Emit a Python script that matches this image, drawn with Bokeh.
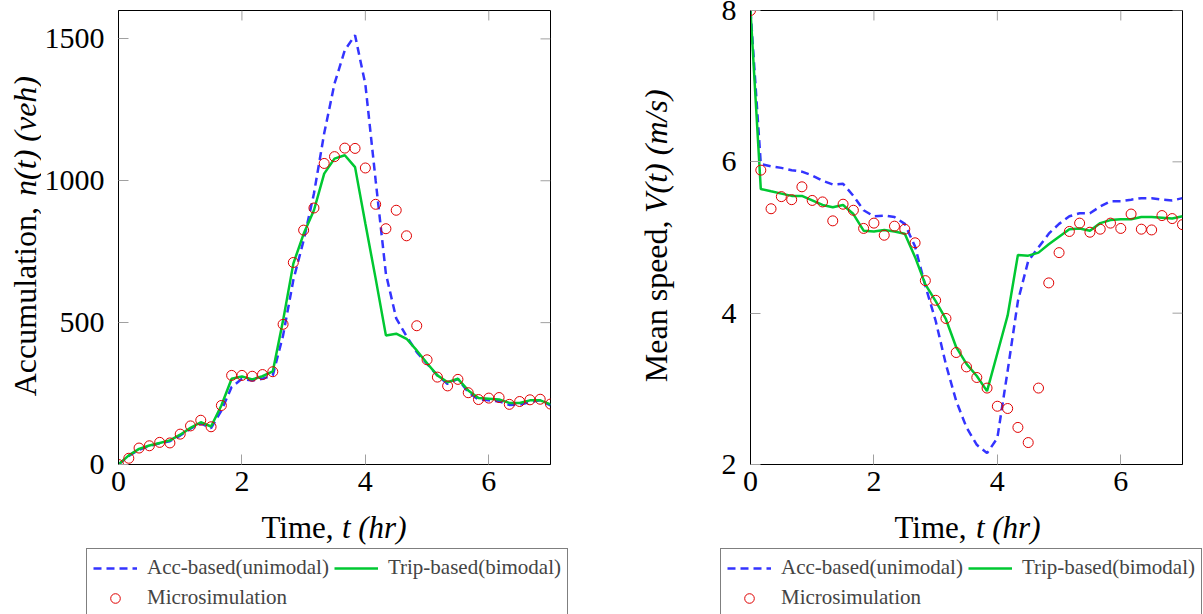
import math
from bokeh.plotting import figure
from bokeh.models import Range1d, FixedTicker, Legend, LegendItem
from bokeh.core.properties import value
from bokeh.layouts import row, column
from bokeh.embed import file_html
from bokeh.resources import INLINE

FONT = "Liberation Serif"

# time grid (hr)
t = [0.0, 0.167, 0.333, 0.5, 0.667, 0.833, 1.0, 1.167, 1.333, 1.5, 1.667, 1.833,
     2.0, 2.167, 2.333, 2.5, 2.667, 2.833, 3.0, 3.167, 3.333, 3.5, 3.667, 3.833,
     4.0, 4.167, 4.333, 4.5, 4.667, 4.833, 5.0, 5.167, 5.333, 5.5, 5.667, 5.833,
     6.0, 6.167, 6.333, 6.5, 6.667, 6.833, 7.0]

# accumulation n(t) (veh)
n_acc = [0, 30, 52, 65, 75, 82, 102, 126, 145, 128, 190, 273,
         302, 296, 302, 314, 455, 650, 790, 955, 1167, 1342, 1460, 1513,
         1340, 1001, 672, 515, 452, 396, 355, 314, 284, 302, 255, 229,
         226, 223, 210, 211, 220, 226, 208]
n_trip = [0, 32, 55, 67, 76, 85, 105, 129, 149, 134, 208, 302,
          310, 300, 311, 328, 508, 708, 813, 896, 1025, 1078, 1090, 1048,
          849, 655, 455, 461, 443, 402, 357, 314, 290, 302, 261, 234,
          232, 229, 217, 217, 226, 226, 212]
n_micro = [0, 22, 58, 66, 78, 76, 107, 136, 156, 133, 208, 314,
           314, 311, 317, 327, 494, 712, 826, 904, 1061, 1085, 1115, 1114,
           1045, 917, 831, 896, 806, 489, 369, 308, 277, 300, 253, 229,
           234, 236, 212, 222, 228, 230, 213]

# mean speed V(t) (m/s)
v_acc = [8.0, 5.97, 5.94, 5.92, 5.89, 5.87, 5.82, 5.75, 5.70, 5.71, 5.55, 5.36,
         5.28, 5.29, 5.27, 5.18, 4.88, 4.36, 3.90, 3.32, 2.84, 2.49, 2.26, 2.15,
         2.35, 3.24, 4.16, 4.69, 4.87, 5.05, 5.18, 5.28, 5.32, 5.32, 5.41, 5.48,
         5.48, 5.50, 5.52, 5.52, 5.50, 5.49, 5.52]
v_trip = [8.0, 5.64, 5.61, 5.58, 5.55, 5.55, 5.49, 5.43, 5.40, 5.43, 5.31, 5.09,
          5.08, 5.10, 5.08, 5.05, 4.74, 4.38, 4.16, 3.92, 3.55, 3.33, 3.17, 2.97,
          3.47, 3.97, 4.77, 4.76, 4.80, 4.91, 5.01, 5.11, 5.12, 5.09, 5.19, 5.23,
          5.24, 5.24, 5.27, 5.27, 5.26, 5.25, 5.28]
v_micro = [8.0, 5.89, 5.38, 5.54, 5.50, 5.67, 5.49, 5.47, 5.22, 5.44, 5.36, 5.12,
           5.19, 5.03, 5.15, 5.11, 4.93, 4.43, 4.17, 3.93, 3.48, 3.29, 3.15, 3.01,
           2.77, 2.74, 2.49, 2.29, 3.01, 4.40, 4.80, 5.08, 5.19, 5.07, 5.11, 5.19,
           5.12, 5.31, 5.11, 5.10, 5.29, 5.25, 5.17]

x_ticks = [0, 2, 4, 6]
n_ticks = [0, 500, 1000, 1500]
v_ticks = [2, 4, 6, 8]

labels = ["Acc-based(unimodal)", "Trip-based(bimodal)", "Microsimulation"]

BLUE = "#3434ff"
GREEN = "#00c832"
RED = "#e00000"
TICK = "#a0a0a0"
DASH = "8 5"
NAN = float("nan")

MAIN_H = 506      # height of the plot figure (frame 454 + borders)
BOT_H = 614 - MAIN_H


def style_axis(ax, standoff):
    ax.major_tick_in = 10
    ax.major_tick_out = 0
    ax.minor_tick_line_color = None
    ax.major_tick_line_color = TICK
    ax.major_tick_line_width = 1
    ax.axis_line_color = "black"
    ax.axis_line_width = 1
    ax.major_label_text_font = FONT
    ax.major_label_text_color = "black"
    ax.major_label_text_font_size = "30px"
    ax.major_label_standoff = standoff


def blank(w, h):
    f = figure(width=w, height=h, x_range=Range1d(0, w), y_range=Range1d(0, h),
               x_axis_location=None, y_axis_location=None, min_border=0,
               output_backend="svg", toolbar_location=None, tools="")
    f.outline_line_color = None
    f.grid.visible = False
    f.background_fill_color = "white"
    f.border_fill_color = "white"
    return f


def title_text(f, x, y, txt, italic, angle, align, size="31px"):
    f.text(x=[x], y=[y], text=[txt], text_font=value(FONT), text_font_size=size,
           text_font_style="italic" if italic else "normal", angle=angle,
           text_align=align, text_baseline="alphabetic", text_color="black")


def main_plot(y0, y1, yticks, ys, left_border, right_border):
    p = figure(frame_width=432, frame_height=454,
               min_border_left=left_border, min_border_right=right_border,
               min_border_top=10, min_border_bottom=MAIN_H - 464,
               x_range=Range1d(0, 7), y_range=Range1d(y0, y1),
               output_backend="svg", toolbar_location=None, tools="")
    p.background_fill_color = "white"
    p.border_fill_color = "white"
    p.outline_line_color = "black"
    p.outline_line_width = 1
    p.xgrid.grid_line_color = None
    p.ygrid.grid_line_color = None

    p.xaxis.ticker = FixedTicker(ticks=x_ticks)
    p.yaxis.ticker = FixedTicker(ticks=yticks)
    for ax in p.xaxis:
        style_axis(ax, 7)
    for ax in p.yaxis:
        style_axis(ax, 14)

    # mirrored inner ticks on the top and right edges of the frame
    p.ray(x=x_ticks, y=[y1] * len(x_ticks), length=10, length_units="screen",
          angle=-math.pi / 2, line_color=TICK, line_width=1)
    p.ray(x=[7] * len(yticks), y=yticks, length=10, length_units="screen",
          angle=math.pi, line_color=TICK, line_width=1)

    p.line(t, ys[0], line_color=BLUE, line_width=2.5, line_dash=DASH)
    p.line(t, ys[1], line_color=GREEN, line_width=2.5)
    p.scatter(t, ys[2], marker="circle", size=10, line_color=RED,
              fill_color=None, line_width=1)
    return p


def bottom_fig(w, time_x0, time_x1, legend_x):
    b = blank(w, BOT_H)
    base = 614 - 537 + 10
    title_text(b, time_x0, base, "Time,", False, 0, "left")
    title_text(b, time_x1, base, "t (hr)", True, 0, "right")
    # legend sample renderers (not visible in the figure itself)
    d_acc = b.line([NAN, NAN], [NAN, NAN], line_color=BLUE, line_width=2.5, line_dash=DASH)
    d_trip = b.line([NAN, NAN], [NAN, NAN], line_color=GREEN, line_width=2.5)
    d_mic = b.scatter([NAN], [NAN], marker="circle", size=10, line_color=RED,
                      fill_color=None, line_width=1)
    legend = Legend(items=[LegendItem(label=labels[0], renderers=[d_acc]),
                           LegendItem(label=labels[1], renderers=[d_trip]),
                           LegendItem(label=labels[2], renderers=[d_mic])],
                    location=(legend_x, -3), orientation="horizontal", ncols=2,
                    label_text_font=FONT, label_text_font_size="21px",
                    glyph_width=44, glyph_height=24, label_height=24,
                    label_standoff=10, spacing=5, padding=6, margin=0,
                    border_line_color="black", border_line_width=1,
                    background_fill_color="white", background_fill_alpha=1)
    b.add_layout(legend)
    return b


def ylabel_fig(w, x, end_a, end_b, txt_a, txt_b):
    f = blank(w, MAIN_H)
    title_text(f, x, MAIN_H - end_a, txt_a, False, math.pi / 2, "right", "32px")
    title_text(f, x, MAIN_H - end_b, txt_b, True, math.pi / 2, "right", "32px")
    return f


# left panel: columns 0..589
yA = ylabel_fig(41, 24, 219, 73, "Accumulation,", "n(t) (veh)")
pA = main_plot(0, 1600, n_ticks, [n_acc, n_trip, n_micro], 76, 40)
bA = bottom_fig(589, 261, 406, 86)

# right panel: columns 589..1203
yB = ylabel_fig(100, 665 - 589 - 11, 234, 88, "Mean speed,", "V(t) (m/s)")
pB = main_plot(2, 8, v_ticks, [v_acc, v_trip, v_micro], 60, 22)
bB = bottom_fig(614, 893 - 589, 1039 - 589, 719 - 589)

layout = row(column(row(yA, pA), bA), column(row(yB, pB), bB))
open("out.html", "w").write(file_html(layout, INLINE))
